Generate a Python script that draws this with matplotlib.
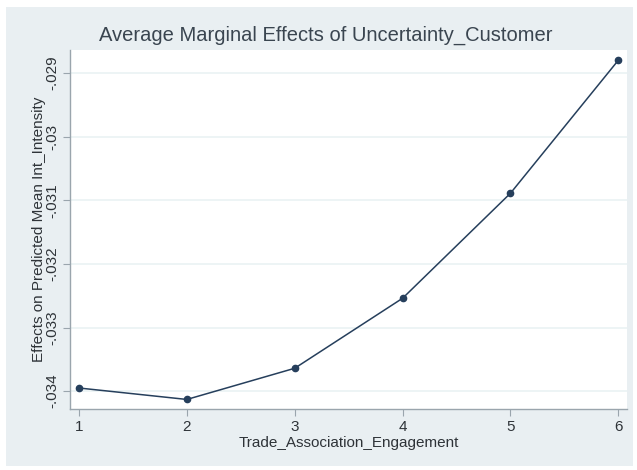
import matplotlib
matplotlib.use('Agg')
import matplotlib.pyplot as plt
from matplotlib.patches import Rectangle

plt.rcParams['font.family'] = ['Liberation Sans', 'DejaVu Sans']

# 数据：横轴取值和对应的平均边际效应
levels = [1, 2, 3, 4, 5, 6]
effects = [-0.03395, -0.03413, -0.03364, -0.03254, -0.03089, -0.02880]
y_ticks = [-0.034, -0.033, -0.032, -0.031, -0.030, -0.029]
y_tick_labels = ['-.034', '-.033', '-.032', '-.031', '-.03', '-.029']

W, H = 637, 470
fig = plt.figure(figsize=(W / 100, H / 100), dpi=100, facecolor='white')

# Stata风格的灰蓝色外框背景
bg = '#e9eff2'
fig.patches.append(Rectangle((6 / W, 4 / H), 627 / W, 459 / H,
                             transform=fig.transFigure, facecolor=bg,
                             edgecolor='none', zorder=-10))

# 绘图区位置（像素换算）
left, right, top, bottom = 70, 627, 50, 409
ax = fig.add_axes([left / W, 1 - bottom / H, (right - left) / W, (bottom - top) / H])
ax.set_facecolor('white')

line_color = '#263f5c'
ax.plot(levels, effects, color=line_color, linewidth=1.1, marker='o',
        markersize=4.5, markerfacecolor=line_color, markeredgecolor=line_color, zorder=3)

ax.set_xlim(0.917, 6.08)
ax.set_ylim(-0.03428, -0.02864)
ax.set_xticks(levels)
ax.set_yticks(y_ticks)
ax.set_yticklabels(y_tick_labels, rotation=90, va='center')

ax.grid(True, axis='y', color='#eaf2f3', linewidth=1.2)
ax.set_axisbelow(True)

for s in ['top', 'right']:
    ax.spines[s].set_visible(False)
for s in ['left', 'bottom']:
    ax.spines[s].set_color('#9aa5ad')
    ax.spines[s].set_linewidth(1.0)

text_color = '#2e3338'
ax.tick_params(axis='both', colors='#9aa5ad', length=5, width=0.8,
               labelcolor=text_color, labelsize=11)
ax.tick_params(axis='x', pad=3)
ax.tick_params(axis='y', pad=3)

ax.set_xlabel('Trade_Association_Engagement', fontsize=11, color=text_color, labelpad=1)
ax.set_ylabel('Effects on Predicted Mean Int_Intensity', fontsize=11, color=text_color, labelpad=-1)

fig.text(0.511, 1 - 35 / H, 'Average Marginal Effects of Uncertainty_Customer',
         ha='center', va='center', fontsize=14.5, color='#3a4550')

fig.savefig('out.png', dpi=100, facecolor='white')
